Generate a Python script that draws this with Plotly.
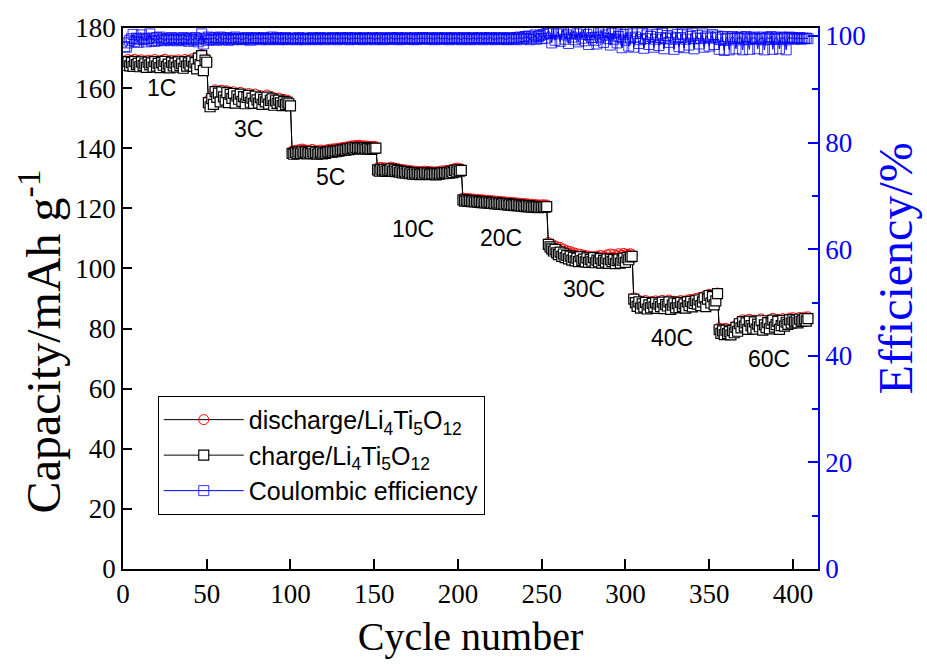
import plotly.graph_objects as go

# ---------------- data ----------------
rate_labels = ["1C", "3C", "5C", "10C", "20C", "30C", "40C", "60C"]
label_x = [23, 75, 124, 173, 226, 275, 328, 386]
label_y = [160, 146.5, 130.5, 113, 110, 93, 77, 70]

charge_1c = [168.2,167.6,168.8,167.4,168.5,167.2,168.9,167.8,168.3,167.1,
             168.7,167.5,168.1,166.9,168.6,167.7,168.4,167.0,168.8,167.3,
             168.2,166.8,168.5,167.6,168.9,167.2,168.0,166.7,168.6,167.4,
             168.3,167.0,168.7,167.5,168.1,166.6,168.8,167.3,168.4,167.6,
             169.0,167.2,168.5,166.4,170.0,167.8,170.8,165.8,169.3,168.6]
charge_3c = [155.2,153.8,156.5,154.6,158.8,156.9,158.3,155.4,158.7,157.1,
             156.0,158.5,155.2,157.9,156.6,158.2,155.0,157.4,156.3,158.0,
             155.6,157.2,154.8,156.9,157.6,155.3,156.7,154.9,157.3,156.1,
             155.0,156.8,154.6,156.2,155.4,157.0,154.7,155.9,156.4,154.3,
             155.8,154.9,156.0,155.1,154.2,155.5,154.6,155.3,154.8,154.1]
charge_5c = [138.3,138.0,138.6,138.2,138.8,138.4,139.0,138.5,138.7,138.1,
             138.6,138.3,138.9,138.2,138.5,138.0,138.4,138.7,138.1,138.5,
             138.3,138.8,138.6,139.0,138.7,139.1,138.9,139.2,139.0,139.4,
             139.3,139.6,139.4,139.8,139.5,139.9,140.1,139.7,140.2,139.9,
             140.3,140.0,139.8,140.1,139.7,140.0,139.9,139.6,139.8,139.9,
             140.0]
charge_10c = [132.8,132.4,133.0,132.5,132.9,132.3,132.7,132.6,133.1,132.4,
              132.8,132.2,132.6,132.0,132.4,131.8,132.2,131.7,132.1,131.5,
              131.9,131.4,131.8,131.3,131.7,131.2,131.6,131.3,131.8,131.4,
              131.7,131.2,131.6,131.3,131.5,131.1,131.6,131.4,131.8,131.5,
              131.9,131.6,132.0,131.7,132.3,131.9,132.6,132.1,132.8,132.4,
              132.6]
charge_20c = [122.8,122.4,122.7,122.3,122.6,122.2,122.5,122.1,122.4,122.0,
              122.3,121.9,122.2,121.8,122.1,121.7,122.0,121.6,121.9,121.5,
              121.8,121.4,121.7,121.3,121.6,121.2,121.5,121.1,121.4,121.0,
              121.3,120.9,121.2,120.8,121.1,120.7,121.0,120.6,120.9,120.5,
              120.8,120.4,120.7,120.3,120.6,120.2,120.5,120.3,120.6,120.4,
              120.6]
charge_30c = [108.0,107.2,106.5,105.8,106.3,105.2,104.6,105.4,104.0,104.8,
              103.6,104.3,103.2,104.1,102.8,103.7,102.5,103.4,102.3,103.9,
              102.6,103.1,102.2,103.5,102.0,103.0,102.4,103.6,101.9,102.8,
              102.2,103.3,101.8,102.7,102.1,103.2,101.7,102.9,102.3,103.0,
              101.6,102.6,103.1,101.8,102.8,103.4,102.0,103.6,102.9,103.8,
              104.0]
charge_40c = [89.8,88.6,87.4,88.9,86.8,88.2,87.1,88.7,86.5,87.9,
              86.9,88.4,87.2,88.6,86.7,88.1,87.3,88.8,86.6,88.0,
              87.5,88.9,86.4,87.8,88.5,86.9,88.3,87.0,88.7,87.4,
              88.2,86.8,88.9,87.6,89.0,87.2,88.4,89.3,88.1,89.5,
              87.6,88.9,90.2,87.3,89.8,91.0,88.5,90.6,87.9,89.2,
              91.6]
charge_60c = [79.6,78.4,79.2,78.0,79.5,78.3,79.0,77.9,79.3,78.6,
              80.4,79.1,81.6,80.2,82.3,80.8,81.9,79.7,82.5,81.0,
              80.1,82.2,79.8,81.5,80.6,82.6,79.5,81.2,80.3,82.0,
              79.9,81.7,82.8,80.5,81.3,82.4,79.7,81.0,82.7,80.8,
              82.1,81.4,82.9,81.8,83.0,82.2,82.6,81.9,83.1,82.4,
              82.8,83.2,82.5,83.3]

discharge_1c = [169.0,168.4,169.5,168.3,169.2,168.0,169.6,168.5,169.1,168.0,
                169.4,168.3,168.9,167.8,169.3,168.5,169.1,167.9,169.5,168.2,
                169.0,167.7,169.2,168.4,169.6,168.1,168.8,167.6,169.3,168.2,
                169.0,167.9,169.4,168.3,168.9,167.5,169.5,168.1,169.1,168.4,
                169.7,168.0,169.2,167.3,170.6,168.5,171.2,166.8,169.9,169.0]
discharge_3c = [156.0,154.6,157.3,155.4,159.4,157.6,159.0,156.2,159.3,157.8,
                156.8,159.1,156.0,158.5,157.3,158.8,155.8,158.1,157.0,158.6,
                156.4,157.9,155.6,157.6,158.2,156.1,157.4,155.7,158.0,156.8,
                155.8,157.5,155.4,156.9,156.2,157.7,155.5,156.6,157.1,155.1,
                156.5,155.7,156.7,155.9,155.0,156.2,155.4,156.0,155.6,154.8]
discharge_5c = [139.0,138.7,139.3,138.9,139.5,139.1,139.7,139.2,139.4,138.8,
                139.3,139.0,139.6,138.9,139.2,138.7,139.1,139.4,138.8,139.2,
                139.0,139.5,139.3,139.7,139.4,139.8,139.6,139.9,139.7,140.1,
                140.0,140.3,140.1,140.5,140.2,140.6,140.8,140.4,140.9,140.6,
                141.0,140.7,140.5,140.8,140.4,140.7,140.6,140.3,140.5,140.6,
                140.4]
discharge_10c = [133.4,133.0,133.6,133.1,133.5,132.9,133.3,133.2,133.7,133.0,
                 133.4,132.8,133.2,132.6,133.0,132.4,132.8,132.3,132.7,132.1,
                 132.5,132.0,132.4,131.9,132.3,131.8,132.2,131.9,132.4,132.0,
                 132.3,131.8,132.2,131.9,132.1,131.7,132.2,132.0,132.4,132.1,
                 132.5,132.2,132.6,132.3,132.9,132.5,133.2,132.7,133.4,133.0,
                 133.1]
discharge_20c = [123.4,123.0,123.3,122.9,123.2,122.8,123.1,122.7,123.0,122.6,
                 122.9,122.5,122.8,122.4,122.7,122.3,122.6,122.2,122.5,122.1,
                 122.4,122.0,122.3,121.9,122.2,121.8,122.1,121.7,122.0,121.6,
                 121.9,121.5,121.8,121.4,121.7,121.3,121.6,121.2,121.5,121.1,
                 121.4,121.0,121.3,120.9,121.2,120.8,121.1,120.9,121.2,121.0,
                 121.1]
discharge_30c = [108.6,108.0,107.4,107.8,106.8,107.2,106.2,107.0,105.8,106.4,
                 105.4,105.9,105.0,105.6,104.6,105.2,104.3,104.9,104.0,104.7,
                 103.8,104.4,103.6,104.2,103.5,104.0,103.4,103.9,103.3,104.1,
                 103.5,104.3,103.2,104.0,103.6,104.5,103.4,104.8,103.7,104.6,
                 103.5,104.2,104.9,103.8,104.4,105.0,104.1,104.7,104.3,104.9,
                 104.5]
discharge_40c = [90.2,89.0,88.2,89.4,87.6,88.9,88.0,89.3,87.4,88.6,
                 87.8,89.0,88.0,89.2,87.5,88.8,88.1,89.4,87.5,88.7,
                 88.2,89.5,87.3,88.6,89.1,87.8,89.0,87.9,89.3,88.2,
                 88.9,87.7,89.5,88.4,89.7,88.0,89.1,90.0,88.8,90.2,
                 88.5,89.6,90.8,88.2,90.4,91.4,89.3,91.0,88.8,90.0,
                 91.8]
discharge_60c = [80.2,79.1,79.8,78.7,80.1,79.0,79.6,78.6,79.9,79.3,
                 81.0,79.8,82.2,80.9,82.9,81.5,82.5,80.4,83.1,81.7,
                 80.8,82.8,80.5,82.1,81.3,83.2,80.2,81.9,81.0,82.6,
                 80.6,82.3,83.4,81.2,82.0,83.0,80.4,81.7,83.3,81.5,
                 82.7,82.1,83.5,82.5,83.6,82.9,83.2,82.6,83.7,83.1,
                 83.4,83.8,83.1,83.9]

efficiency = [
    98.0,97.9,98.7,99.2,99.5,100.3,99.0,99.6,98.8,99.4,
    100.2,99.3,99.6,98.9,99.5,100.4,99.1,99.6,99.0,99.7,
    99.2,99.8,99.3,99.5,99.1,99.6,99.4,99.2,99.7,99.3,
    99.5,99.1,99.6,99.4,99.2,99.7,99.3,99.5,99.0,99.6,
    99.4,99.2,99.7,99.3,98.9,99.5,100.4,98.5,99.6,99.2,
    99.8,99.3,99.6,99.4,99.7,99.2,99.5,99.8,99.3,99.6,
    99.4,99.7,99.2,99.5,99.6,99.3,99.8,99.4,99.6,99.5,
    99.3,99.6,99.4,99.7,99.5,99.2,99.6,99.4,99.7,99.5,
    99.6,99.3,99.5,99.7,99.4,99.6,99.3,99.5,99.8,99.4,
    99.5,99.7,99.3,99.6,99.4,99.5,99.7,99.3,99.6,99.5,
    99.4,99.6,99.5,99.3,99.7,99.4,99.6,99.5,99.3,99.6,
    99.5,99.4,99.7,99.5,99.3,99.6,99.4,99.7,99.5,99.6,
    99.3,99.6,99.5,99.4,99.7,99.5,99.6,99.3,99.5,99.7,
    99.4,99.6,99.5,99.7,99.3,99.6,99.4,99.5,99.7,99.4,
    99.6,99.5,99.3,99.7,99.5,99.4,99.6,99.5,99.7,99.3,
    99.5,99.6,99.4,99.7,99.5,99.3,99.6,99.5,99.4,99.7,
    99.6,99.4,99.5,99.7,99.3,99.6,99.5,99.4,99.7,99.5,
    99.4,99.6,99.5,99.3,99.7,99.4,99.6,99.5,99.7,99.4,
    99.5,99.7,99.4,99.6,99.5,99.3,99.6,99.7,99.4,99.5,
    99.6,99.4,99.7,99.5,99.3,99.6,99.5,99.7,99.4,99.6,
    99.5,99.3,99.6,99.7,99.4,99.5,99.6,99.3,99.7,99.5,
    99.4,99.6,99.5,99.7,99.3,99.6,99.5,99.4,99.7,99.6,
    99.5,99.3,99.6,99.4,99.7,99.5,99.6,99.4,99.3,99.6,
    99.7,99.4,99.5,99.6,99.3,99.7,99.8,99.4,99.6,99.9,
    99.5,100.0,99.3,99.8,99.6,100.2,99.4,99.9,100.1,99.5,
    100.3,99.6,100.5,101.0,100.6,98.7,100.8,99.2,100.4,100.9,
    99.0,100.6,101.2,99.4,100.2,98.6,100.7,99.8,101.0,99.3,
    100.4,98.9,100.8,99.6,101.1,99.1,100.3,98.4,100.7,99.7,
    100.9,99.2,98.5,100.6,99.8,101.0,98.8,100.2,99.5,100.8,
    98.3,100.5,99.4,100.9,98.7,99.9,100.6,97.8,100.3,99.2,
    100.7,98.1,99.6,100.4,97.9,99.8,100.8,98.6,99.3,100.5,
    97.7,99.5,100.2,98.4,99.9,100.6,97.9,99.4,100.3,98.2,
    99.7,100.5,97.6,99.5,100.1,98.8,99.8,100.6,97.5,99.6,
    100.3,98.0,99.7,100.4,97.8,99.4,100.2,98.3,99.9,100.5,
    97.6,99.6,100.1,98.5,99.5,100.4,97.9,99.8,100.0,98.1,
    99.6,100.3,98.4,99.7,100.0,97.5,99.4,99.9,97.3,99.5,
    99.8,97.4,99.6,99.9,99.5,97.6,99.7,99.5,99.8,97.4,
    99.6,99.9,99.4,97.5,99.7,99.5,99.8,99.4,97.6,99.6,
    99.5,99.8,97.4,99.6,99.7,99.4,99.9,97.5,99.5,99.7,
    99.4,97.6,99.8,99.5,99.7,97.4,99.6,99.8,99.5,99.7,
    99.4,99.6,99.5,99.7,99.4,99.6,99.5,99.6,99.5,
]

x_ticks = [0, 50, 100, 150, 200, 250, 300, 350, 400]
y_ticks = [0, 20, 40, 60, 80, 100, 120, 140, 160, 180]
y2_ticks = [0, 20, 40, 60, 80, 100]

charge = (charge_1c + charge_3c + charge_5c + charge_10c + charge_20c
          + charge_30c + charge_40c + charge_60c)
discharge = (discharge_1c + discharge_3c + discharge_5c + discharge_10c
             + discharge_20c + discharge_30c + discharge_40c + discharge_60c)
cycles = list(range(1, len(charge) + 1))
eff_cycles = list(range(1, len(efficiency) + 1))

serif = "Liberation Serif, Times New Roman, serif"
sans = "Liberation Sans, Arial, sans-serif"

fig = go.Figure()
fig.add_trace(go.Scatter(
    x=cycles, y=discharge, mode="lines+markers",
    name="discharge/Li<sub>4</sub>Ti<sub>5</sub>O<sub>12</sub>",
    line=dict(color="black", width=1),
    marker=dict(symbol="circle-open", size=10, color="red", line=dict(width=1, color="red")),
))
fig.add_trace(go.Scatter(
    x=cycles, y=charge, mode="lines+markers",
    name="charge/Li<sub>4</sub>Ti<sub>5</sub>O<sub>12</sub>",
    line=dict(color="black", width=1),
    marker=dict(symbol="square", size=10, color="white", line=dict(width=1.2, color="black")),
))
fig.add_trace(go.Scatter(
    x=eff_cycles, y=efficiency, mode="lines+markers", yaxis="y2",
    name="Coulombic efficiency",
    line=dict(color="blue", width=1),
    marker=dict(symbol="square-open", size=10, color="blue", line=dict(width=0.8, color="blue")),
))

for t, xx, yy in zip(rate_labels, label_x, label_y):
    fig.add_annotation(x=xx, y=yy, text=t, showarrow=False,
                       font=dict(family=sans, size=23, color="black"))

# axis titles placed as rotated annotations to match reference positions
fig.add_annotation(xref="paper", yref="paper", x=-0.12, y=0.42,
                   text="Capacity/mAh g<sup>-1</sup>", textangle=-90, showarrow=False,
                   xanchor="center", yanchor="middle",
                   font=dict(family=serif, size=48, color="black"))
fig.add_annotation(xref="paper", yref="paper", x=1.112, y=0.555,
                   text="Efficiency/%", textangle=-90, showarrow=False,
                   xanchor="center", yanchor="middle",
                   font=dict(family=serif, size=48, color="blue"))

fig.update_layout(
    width=927, height=667,
    margin=dict(l=123, r=109, t=28, b=98),
    paper_bgcolor="white", plot_bgcolor="white",
    showlegend=True,
    legend=dict(x=0.05, y=0.32, xanchor="left", yanchor="top",
                bgcolor="white", bordercolor="black", borderwidth=1,
                font=dict(family=sans, size=25, color="black"),
                itemwidth=80, tracegroupgap=0),
    xaxis=dict(range=[0, 415], tickvals=x_ticks, ticks="inside", ticklen=10,
               tickwidth=1.5, tickcolor="black", showline=True, linecolor="black",
               linewidth=1.5, mirror=True, showgrid=False, zeroline=False,
               tickfont=dict(family=serif, size=27, color="black"),
               title=dict(text="Cycle number", font=dict(family=serif, size=40, color="black"),
                          standoff=14)),
    yaxis=dict(range=[0, 180], tickvals=y_ticks, ticks="inside", ticklen=9,
               tickwidth=1.5, tickcolor="black", showline=True, linecolor="black",
               linewidth=1.5, showgrid=False, zeroline=False,
               tickfont=dict(family=serif, size=27, color="black")),
    yaxis2=dict(range=[0, 101.5], tickvals=y2_ticks, overlaying="y", side="right",
                ticks="inside", ticklen=10, tickwidth=1.5, tickcolor="blue",
                showline=True, linecolor="blue", linewidth=1.5, showgrid=False,
                zeroline=False,
                minor=dict(dtick=10, ticks="inside", ticklen=6, tickcolor="blue", tickwidth=1.5),
                tickfont=dict(family=serif, size=27, color="blue")),
)

fig.write_html("out.html")
